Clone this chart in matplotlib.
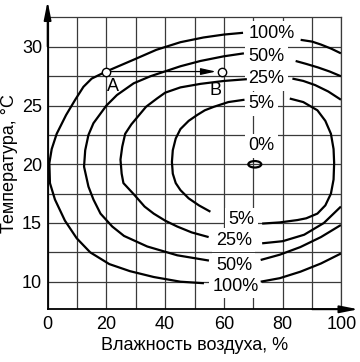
import numpy as np
import matplotlib
matplotlib.use("Agg")
import matplotlib.pyplot as plt
from matplotlib.patches import Ellipse

plt.rcParams['font.family'] = ['Liberation Sans', 'DejaVu Sans']

# --- curve data ---
# 100 %
c100_x = [66.5, 60, 53, 45.2, 37, 29.2, 19.9, 15, 12.2, 9.4, 6.3, 3.1, 1.4, 0.6, 0.8, 2.5, 5.9, 9.9, 14.5, 21, 28, 36.1, 45.2, 53.2]
c100_y = [31.2, 31.05, 30.8, 30.4, 29.75, 28.9, 27.9, 27.3, 26.6, 25.5, 24.2, 22.6, 21.3, 20.1, 18.4, 17.0, 15.2, 13.7, 12.5, 11.5, 10.9, 10.4, 10.0, 9.87]
c100_top_x = [86.1, 90, 93, 96.5, 99.8]
c100_top_y = [30.6, 30.45, 30.2, 29.85, 29.45]
c100_bot_x = [72.5, 79, 86, 93, 99.8]
c100_bot_y = [10.0, 10.3, 10.85, 11.55, 12.4]

# 50 %
c50_x = [66.8, 60, 52, 45.2, 35, 29.3, 23.6, 20, 15.6, 13.9, 12.8, 12.4, 13.9, 15.6, 18, 22, 26, 33.9, 44.1, 54.9]
c50_y = [29.45, 29.2, 28.8, 28.35, 27.5, 26.9, 25.9, 25.0, 23.5, 22.5, 21.2, 19.8, 18.1, 17.0, 15.8, 14.7, 13.9, 13.0, 12.25, 11.8]
c50_top_x = [84.4, 88, 92, 96, 99.8]
c50_top_y = [28.8, 28.55, 28.25, 27.9, 27.5]
c50_bot_x = [72.5, 79, 86, 93, 99.8]
c50_bot_y = [11.85, 12.3, 12.95, 13.8, 14.83]

# 25 %
c25_x = [67.8, 60, 52, 45.2, 40, 37.2, 33.5, 31.5, 28.5, 26.4, 25.4, 24.8, 25.2, 25.8, 29.5, 33, 36.1, 40, 44.1, 49, 54.8]
c25_y = [27.25, 27.1, 26.85, 26.55, 26.1, 25.6, 24.9, 24.3, 23.4, 22.6, 21.5, 20.4, 19.2, 18.4, 17.4, 16.4, 15.8, 15.2, 14.7, 14.2, 13.8]
c25_top_x = [83.3, 87, 91, 95.5, 99.8]
c25_top_y = [27.3, 27.1, 26.75, 26.2, 25.5]
c25_bot_x = [73, 80, 87.3, 94, 99.8]
c25_bot_y = [13.27, 13.45, 14.0, 15.0, 16.4]

# 5 %
c5_x = [67, 61.5, 56.6, 53.5, 50.9, 48, 45.2, 43.6, 42.6, 42.3, 42.6, 43.6, 45.2, 48, 51.5, 55.4]
c5_y = [25.5, 25.3, 24.9, 24.6, 24.2, 23.7, 23.0, 22.2, 21.2, 20.2, 19.2, 18.4, 17.8, 17.1, 16.5, 15.96]
c5_right_x = [82.4, 87, 91.8, 94.5, 96.4, 97.3, 97.5, 97.3, 96.4, 94.5, 91.8, 88, 85, 79, 73]
c5_right_y = [25.6, 25.3, 24.6, 23.7, 22.6, 21.3, 20.1, 18.7, 17.5, 16.5, 15.8, 15.4, 15.25, 15.05, 14.95]

# 0 % (small closed loop)
c0_center = (70.5, 20.0)
c0_size = (4.4, 0.55)

# labels
top_labels = ['100%', '50%', '25%', '5%', '0%']
top_lab_x = [76.2, 74.5, 74.5, 72.8, 72.8]
top_lab_y = [31.16, 29.17, 27.27, 25.14, 21.56]
bot_labels = ['5%', '25%', '50%', '100%']
bot_lab_x = [66.0, 63.4, 63.4, 64.0]
bot_lab_y = [15.26, 13.55, 11.42, 9.63]

# points A and B
pt_names = ['A', 'B']
pt_x = [20.0, 59.4]
pt_y = [27.9, 27.9]
pt_lab_x = [22.2, 57.1]
pt_lab_y = [26.6, 26.3]

fs = 13

fig = plt.figure(figsize=(3.6, 3.62), dpi=100)
ax = fig.add_axes([0.1322, 0.1456, 0.8164, 0.8066])
ax.set_xlim(0, 100)
ax.set_ylim(7.65, 32.52)

gridc = '#3a3a3a'
ax.set_xticks(np.arange(0, 101, 20))
ax.set_xticks(np.arange(10, 100, 20), minor=True)
ax.set_yticks(np.arange(10, 31, 5))
ax.set_yticks(np.arange(12.5, 32, 5), minor=True)
ax.grid(True, which='both', color=gridc, lw=0.9, zorder=1)
ax.set_axisbelow(True)
ax.tick_params(which='both', length=0, labelsize=fs)
ax.tick_params(axis='x', pad=5)
ax.tick_params(axis='y', pad=4)
for s in ['top', 'right']:
    ax.spines[s].set_color(gridc)
    ax.spines[s].set_linewidth(0.9)
for s in ['left', 'bottom']:
    ax.spines[s].set_linewidth(1.3)

# axis arrows
ax.annotate('', xy=(0, 1.055), xytext=(0, 0.9), xycoords='axes fraction',
            arrowprops=dict(arrowstyle='-|>,head_length=1.1,head_width=0.22',
                            lw=1.3, color='black', shrinkA=0, shrinkB=0),
            annotation_clip=False)
ax.annotate('', xy=(1.057, 0), xytext=(0.9, 0), xycoords='axes fraction',
            arrowprops=dict(arrowstyle='-|>,head_length=1.1,head_width=0.22',
                            lw=1.3, color='black', shrinkA=0, shrinkB=0),
            annotation_clip=False)

lw = 1.6
segs = [(c100_x, c100_y), (c100_top_x, c100_top_y), (c100_bot_x, c100_bot_y),
        (c50_x, c50_y), (c50_top_x, c50_top_y), (c50_bot_x, c50_bot_y),
        (c25_x, c25_y), (c25_top_x, c25_top_y), (c25_bot_x, c25_bot_y),
        (c5_x, c5_y), (c5_right_x, c5_right_y)]
for sx, sy in segs:
    ax.plot(sx, sy, color='black', lw=lw, solid_capstyle='butt',
            solid_joinstyle='round', zorder=5)
ax.add_patch(Ellipse(c0_center, c0_size[0], c0_size[1], fill=False,
                     ec='black', lw=lw, zorder=5))

box = dict(facecolor='white', edgecolor='none', pad=2.5)
for t, x, y in zip(top_labels, top_lab_x, top_lab_y):
    ax.text(x, y, t, ha='center', va='center', fontsize=fs, bbox=box, zorder=3)
for t, x, y in zip(bot_labels, bot_lab_x, bot_lab_y):
    ax.text(x, y, t, ha='center', va='center', fontsize=fs, bbox=box, zorder=3)

# A -> B
ax.annotate('', xy=(pt_x[1], pt_y[1]), xytext=(pt_x[0], pt_y[0]),
            arrowprops=dict(arrowstyle='-|>,head_length=0.9,head_width=0.2',
                            lw=0.9, color='black', shrinkA=3, shrinkB=4.5),
            zorder=6)
ax.plot(pt_x, pt_y, 'o', ms=6, mfc='white', mec='black', mew=1.0, zorder=7)
for t, x, y in zip(pt_names, pt_lab_x, pt_lab_y):
    ax.text(x, y, t, ha='center', va='center', fontsize=fs, zorder=7)

ax.set_xlabel('Влажность воздуха, %', fontsize=fs, labelpad=3)
ax.set_ylabel('Температура, °C', fontsize=fs, labelpad=3)

fig.savefig('out.png', dpi=100)
